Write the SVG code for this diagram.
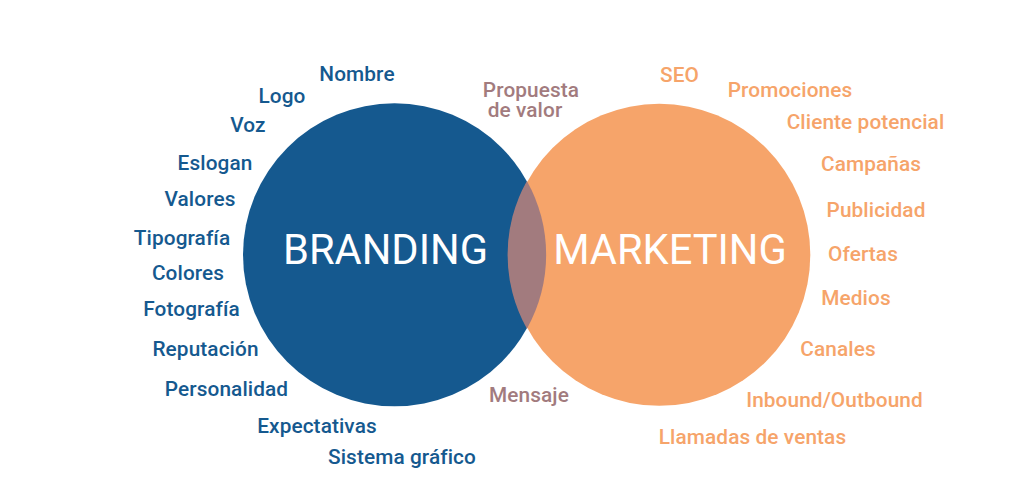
<svg xmlns="http://www.w3.org/2000/svg" width="1024" height="493" viewBox="0 0 1024 493">
<style>
text{font-family:Roboto,"Liberation Sans",sans-serif}
.l{font-size:20.800px;font-weight:500;text-anchor:middle;letter-spacing:0.100px}
.b{fill:#15598f}.o{fill:#f6a46a}.m{fill:#a27b7e}
.t{font-size:41.600px;fill:#fff;text-anchor:middle;font-weight:400}
</style>
<rect width="1024" height="493" fill="#fff"/>
<g id="branding"><circle cx="394.500" cy="254.800" r="151.500" fill="#15598f"/><text class="t" x="385.500" y="264">BRANDING</text></g>
<g id="marketing"><circle cx="659.300" cy="254.800" r="151" fill="#f6a46a"/><text class="t" x="670" y="264">MARKETING</text></g>
<g id="overlap"><path d="M526.900 180.900A151 151 0 0 0 526.900 328.700A151.500 151.500 0 0 0 526.900 180.900Z" fill="#a27b7e"/></g>
<g id="branding-labels"><text class="l b" x="357" y="81">Nombre</text>
<text class="l b" x="282" y="103">Logo</text>
<text class="l b" x="248" y="132">Voz</text>
<text class="l b" x="215" y="170">Eslogan</text>
<text class="l b" x="200" y="206">Valores</text>
<text class="l b" x="182" y="245">Tipografía</text>
<text class="l b" x="188" y="280">Colores</text>
<text class="l b" x="191.500" y="316">Fotografía</text>
<text class="l b" x="205.500" y="356">Reputación</text>
<text class="l b" x="226.500" y="396">Personalidad</text>
<text class="l b" x="317" y="433">Expectativas</text>
<text class="l b" x="402" y="464">Sistema gráfico</text></g>
<g id="shared-labels"><text class="l m"><tspan x="531" y="97">Propuesta</tspan><tspan x="525" y="117">de valor</tspan></text>
<text class="l m" x="529" y="402">Mensaje</text></g>
<g id="marketing-labels"><text class="l o" x="679.500" y="82">SEO</text>
<text class="l o" x="790" y="97">Promociones</text>
<text class="l o" x="865.500" y="129">Cliente potencial</text>
<text class="l o" x="871" y="171">Campañas</text>
<text class="l o" x="876" y="217">Publicidad</text>
<text class="l o" x="863" y="261">Ofertas</text>
<text class="l o" x="856" y="305">Medios</text>
<text class="l o" x="838" y="356">Canales</text>
<text class="l o" x="834.500" y="407">Inbound/Outbound</text>
<text class="l o" x="752.500" y="444">Llamadas de ventas</text></g>
</svg>
